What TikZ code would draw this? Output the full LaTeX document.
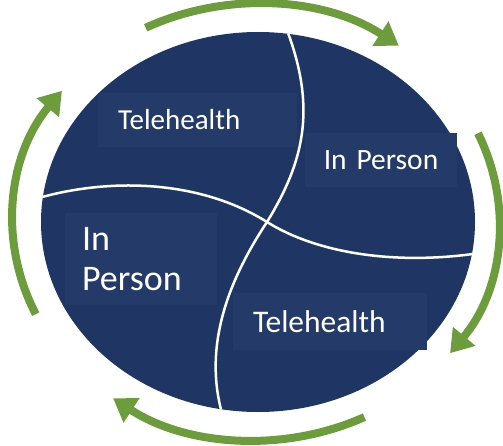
\documentclass[tikz,border=0pt]{standalone}
\usepackage{fontspec}
\setmainfont{Carlito}
\usepackage{xcolor}
\usepackage{tikz}
\usetikzlibrary{arrows.meta}

\definecolor{navy}{RGB}{31,54,100}
\definecolor{boxnavy}{RGB}{36,58,105}
\definecolor{leafgreen}{RGB}{108,156,60}

\begin{document}
\begin{tikzpicture}[x=1pt, y=1pt]
\tikzstyle{stagebox} = [rectangle, fill=boxnavy, text=white, inner ysep=0pt, inner xsep=20pt]
\tikzstyle{cycle} = [leafgreen, line width=8pt, -{Triangle[width=28pt, length=22pt]}]
\tikzstyle{split} = [white, line width=2.5pt]

\useasboundingbox (0,0) rectangle (503,445);
\coordinate (ring) at (256,223);
\coordinate (disc) at (258,223);

\fill[navy] (disc) ellipse [x radius=217pt, y radius=190pt];

\node (teleTop) [stagebox, text width=159pt, align=left, minimum height=54pt, font=\fontsize{29}{34}\selectfont] at (197.5,325) {Telehealth};
\node (personRight) [stagebox, text width=136pt, inner xsep=8pt, align=center, minimum height=54pt, font=\fontsize{29.5}{34}\selectfont] at (381,285) {In Person};
\node (personLeft) [stagebox, text width=118pt, inner xsep=17pt, align=left, minimum height=92pt, font=\fontsize{36}{40}\selectfont] at (141,186) {In\\Person};
\node (teleBottom) [stagebox, text width=154pt, align=left, minimum height=57pt, font=\fontsize{31.5}{36}\selectfont] at (330,123.5) {Telehealth};

% dividing lines
\begin{scope}
\clip (disc) ellipse [x radius=217pt, y radius=190pt];
\draw[split] (283,425) .. controls (318,340) and (305,285) .. (267,223)
  .. controls (232,170) and (200,100) .. (224,25);
\draw[split] (35,246) .. controls (110,268) and (200,265) .. (267,223)
  .. controls (320,190) and (400,180) .. (480,192);
\end{scope}

% cycle arrows
\draw[cycle] ([shift={(117:243pt and 218pt)}]ring) arc[start angle=117, end angle=54, x radius=243pt, y radius=218pt];
\draw[cycle] ([shift={(24:243pt and 218pt)}]ring) arc[start angle=24, end angle=-37, x radius=243pt, y radius=218pt];
\draw[cycle] ([shift={(-63.5:243pt and 218pt)}]ring) arc[start angle=-63.5, end angle=-126, x radius=243pt, y radius=218pt];
\draw[cycle] ([shift={(205:243pt and 218pt)}]ring) arc[start angle=205, end angle=143, x radius=243pt, y radius=218pt];

\end{tikzpicture}
\end{document}
